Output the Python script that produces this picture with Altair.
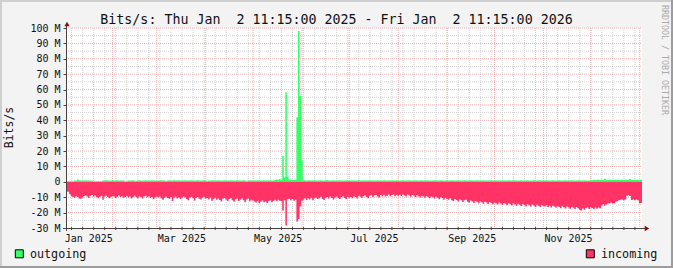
import altair as alt
import pandas as pd
from datetime import datetime, timedelta, timezone

# ---------------- data ----------------
TITLE = "Bits/s: Thu Jan  2 11:15:00 2025 - Fri Jan  2 11:15:00 2026"
Y_TITLE = "Bits/s"
WATERMARK = "RRDTOOL / TOBI OETIKER"
SERIES = ["outgoing", "incoming"]
COLORS = ["#33ff66", "#ff3366"]
Y_TICKS_M = [-30, -20, -10, 0, 10, 20, 30, 40, 50, 60, 70, 80, 90, 100]
Y_MINOR_M = [-25, -15, -5, 5, 15, 25, 35, 45, 55, 65, 75, 85, 95]
X_LABELS = ["Jan 2025", "Mar 2025", "May 2025", "Jul 2025", "Sep 2025", "Nov 2025"]
X_LABEL_DATES = ["2025-01-01", "2025-03-01", "2025-05-01", "2025-07-01", "2025-09-01", "2025-11-01"]

# daily values (Mbit/s), day 0 = 2 Jan 2025 11:15
outgoing_M = (
    # Jan
    [0.2, 0.2, 0.2, 0.2, 0.3, 0.8, 0.9, 1.5, 1.0, 0.9, 0.8, 0.9, 1.0, 0.8, 0.9, 0.8, 0.9,
     0.2, 0.3, 0.2, 0.2, 0.3, 0.2, 0.9, 0.8, 1.0, 0.9, 0.8, 0.9, 1.0]
    # Feb
    + [0.9, 0.8, 1.0, 0.9, 0.8, 0.9, 1.0, 0.2, 0.3, 0.9, 0.8, 0.9, 1.0, 0.8, 0.2,
       0.9, 1.0, 0.8, 0.9, 0.8, 1.0, 0.9, 0.8, 0.9, 1.0, 0.8, 0.9, 0.8]
    # Mar
    + [0.9, 0.8, 1.0, 0.9, 0.8, 0.2, 0.9, 1.0, 0.8, 0.9, 1.1, 0.8, 0.9, 1.0, 0.8, 0.9,
       0.8, 1.0, 0.9, 0.8, 0.9, 1.0, 0.8, 0.9, 0.8, 1.0, 0.9, 0.8, 0.9, 1.0, 0.8]
    # Apr
    + [0.2, 0.9, 0.8, 1.0, 0.9, 0.8, 0.9, 1.0, 0.8, 0.9, 0.8, 1.0, 0.9, 0.8, 0.9, 1.0,
       0.8, 0.9, 0.8, 1.0, 0.9, 0.8, 0.9, 1.0, 0.8, 0.2, 0.9, 0.8, 1.0, 0.9]
    # May
    + [0.9, 0.8, 1.0, 0.9, 0.8, 0.9, 1.0, 0.8, 0.9, 0.8, 1.0, 0.9, 0.8,
       1.2, 1.5, 1.3, 1.9, 1.4, 17.0, 3.0, 58.0, 3.5, 1.5, 1.3, 1.4, 1.2, 1.3,
       42.0, 98.0, 56.0, 14.0]
    # Jun
    + [0.9, 1.0, 0.8, 0.9, 1.1, 0.8, 0.9, 1.0, 0.8, 0.9, 0.8, 1.0, 0.9, 0.8, 0.9,
       1.2, 0.8, 0.9, 0.8, 1.0, 0.9, 0.8, 0.9, 1.0, 0.8, 0.9, 0.8, 1.0, 0.9, 0.8]
    # Jul
    + [0.9, 1.0, 0.8, 0.9, 0.8, 1.0, 0.9, 0.8, 0.9, 1.0, 0.8, 0.9, 0.8, 1.0, 0.9, 0.8,
       0.9, 1.0, 0.8, 0.9, 0.8, 1.0, 0.9, 0.8, 0.9, 1.0, 0.8, 0.9, 0.8, 1.0, 0.9]
    # Aug
    + [0.8, 0.9, 1.0, 0.8, 0.9, 0.8, 1.0, 0.9, 0.8, 0.9, 1.0, 0.8, 0.9, 0.8, 1.0, 0.9,
       0.8, 0.9, 1.0, 0.8, 0.9, 0.8, 1.0, 0.9, 0.8, 0.9, 1.0, 0.8, 0.9, 0.8, 1.0]
    # Sep
    + [0.9, 0.8, 1.0, 0.9, 0.8, 0.9, 1.0, 0.8, 0.9, 0.8, 1.0, 0.9, 0.8, 0.9, 1.0,
       0.8, 0.9, 0.8, 1.0, 0.9, 0.8, 0.9, 1.0, 0.8, 0.9, 0.8, 1.0, 0.9, 0.8, 0.9]
    # Oct
    + [1.0, 0.8, 0.9, 0.8, 1.0, 0.9, 0.8, 0.9, 1.0, 0.8, 0.9, 0.8, 1.0, 0.9, 0.8, 0.9,
       1.0, 0.8, 0.9, 0.8, 1.0, 0.9, 0.8, 0.9, 1.0, 0.8, 0.9, 0.8, 1.0, 0.9, 0.8]
    # Nov
    + [0.9, 1.0, 0.8, 0.9, 0.8, 1.0, 0.9, 0.8, 0.9, 1.0, 0.8, 0.9, 0.8, 1.0, 0.9,
       0.8, 0.9, 1.0, 0.8, 0.9, 0.8, 1.0, 0.9, 0.8, 0.9, 1.0, 0.8, 0.9, 0.8, 1.0]
    # Dec
    + [1.1, 1.3, 1.2, 1.4, 1.3, 1.2, 1.4, 1.3, 2.0, 1.3, 1.2, 1.4, 1.3, 1.2, 1.3, 1.4,
       1.3, 1.2, 1.4, 1.3, 1.2, 1.3, 1.4, 1.3, 1.9, 1.3, 1.2, 1.4, 1.3, 1.2, 1.3]
    # 1 Jan 2026
    + [1.3]
)

incoming_M = (
    # Jan
    [6.3, 6.5, 8.0, 9.2, 9.8, 10.4, 9.3, 9.9, 10.9, 11.0, 10.1, 9.2, 8.8, 9.6, 10.5,
     9.0, 8.6, 9.5, 8.9, 9.8, 10.6, 9.7, 9.1, 11.6, 9.6, 9.0, 9.9, 10.7, 9.8, 9.2]
    # Feb
    + [9.6, 10.5, 9.7, 8.9, 9.8, 9.3, 10.4, 9.9, 9.2, 10.1, 9.6, 10.9, 10.0, 9.1,
       9.8, 10.6, 9.5, 9.9, 10.8, 9.3, 9.0, 10.0, 9.4, 10.5, 9.8, 11.3, 10.1, 9.5]
    # Mar
    + [10.2, 9.6, 10.8, 11.6, 10.4, 9.7, 10.5, 11.0, 9.9, 12.4, 10.3, 9.6, 10.9, 10.2,
       11.2, 10.4, 9.5, 10.1, 11.1, 11.9, 10.2, 9.7, 10.6, 12.2, 10.4, 9.8, 11.0, 11.5,
       10.3, 9.7, 10.9]
    # Apr
    + [10.5, 11.3, 10.2, 12.3, 11.3, 10.4, 11.6, 10.9, 11.8, 12.8, 11.0, 10.5, 11.7,
       12.4, 11.2, 10.6, 11.9, 13.0, 11.3, 10.8, 12.5, 11.6, 10.7, 12.0, 13.3, 11.4,
       10.9, 12.6, 11.7, 12.2]
    # May
    + [12.8, 13.4, 12.3, 13.9, 12.9, 12.2, 13.3, 12.7, 13.7, 12.4, 12.0, 13.2, 12.5,
       11.7, 12.5, 11.6, 12.3, 12.6, 18.6, 12.0, 28.4, 11.5, 11.0, 12.0, 11.2, 12.3,
       11.6, 25.8, 24.2, 16.0, 12.3]
    # Jun
    + [11.6, 10.6, 11.8, 10.7, 11.4, 10.3, 12.0, 10.7, 10.1, 11.2, 10.6, 9.7, 11.0,
       11.8, 10.4, 9.9, 10.9, 9.6, 10.5, 11.5, 10.2, 9.5, 10.6, 11.2, 10.0, 9.4, 10.5,
       11.3, 9.7, 10.4]
    # Jul
    + [9.8, 10.6, 9.3, 9.9, 10.9, 9.1, 9.7, 10.3, 9.2, 8.8, 9.8, 10.6, 9.0, 8.7, 9.8,
       8.9, 8.5, 9.6, 10.2, 8.6, 9.4, 8.4, 9.5, 9.0, 8.3, 9.3, 8.6, 8.2, 9.4, 8.5, 9.1]
    # Aug
    + [8.4, 9.2, 8.2, 8.8, 9.6, 8.3, 8.9, 9.7, 8.5, 9.1, 9.9, 8.7, 9.3, 10.1, 9.0, 9.5,
       10.4, 9.2, 9.8, 10.6, 9.5, 10.0, 10.9, 9.7, 10.4, 11.3, 10.0, 10.7, 11.6, 10.3,
       11.2]
    # Sep
    + [11.6, 10.7, 11.9, 12.5, 11.1, 11.8, 12.8, 11.5, 12.0, 13.1, 12.0, 11.7, 12.9,
       13.5, 12.2, 12.8, 13.7, 12.4, 13.0, 13.9, 12.7, 13.2, 14.2, 12.9, 13.5, 14.4,
       13.1, 13.7, 14.6, 13.4]
    # Oct
    + [13.9, 14.8, 13.5, 14.1, 15.0, 13.7, 14.3, 15.2, 13.9, 14.5, 15.4, 14.0, 14.7,
       15.6, 14.3, 14.9, 15.8, 14.4, 15.1, 16.0, 14.6, 15.2, 16.1, 14.8, 15.4, 16.3,
       14.9, 15.5, 16.4, 15.1, 15.7]
    # Nov
    + [16.1, 15.2, 16.4, 15.5, 16.7, 15.6, 16.1, 16.9, 15.7, 16.3, 17.1, 15.8, 16.5,
       17.3, 16.0, 16.7, 17.5, 16.2, 16.9, 17.7, 16.4, 17.1, 18.1, 18.6, 17.3, 18.2,
       17.0, 16.6, 17.6, 16.7]
    # Dec
    + [17.0, 17.8, 16.6, 17.5, 16.7, 17.2, 15.4, 14.6, 15.5, 14.7, 14.1, 14.0, 13.4,
       14.1, 13.9, 12.9, 12.5, 11.8, 11.7, 11.4, 11.9, 11.5, 9.0, 8.7, 9.2, 11.8, 11.4,
       12.0, 11.5, 11.9, 13.9]
    # 1 Jan 2026
    + [13.8]
)

# ---------------- helpers ----------------
UTC = timezone.utc
START = datetime(2025, 1, 2, 11, 15, tzinfo=UTC)
END = datetime(2026, 1, 2, 11, 15, tzinfo=UTC)


def ms(d):
    return int(d.timestamp() * 1000)


def keep_spaces(s):
    # SVG collapses runs of spaces; keep them visible with no-break spaces
    return s.replace("  ", " \u00a0")


T0, T1 = ms(START), ms(END)
n = len(incoming_M)
times = [ms(START + timedelta(days=i)) for i in range(n + 1)]
df = pd.DataFrame({
    "t": times,
    "out": [v * 1e6 for v in outgoing_M] + [outgoing_M[-1] * 1e6],
    "inc": [-v * 1e6 for v in incoming_M] + [-incoming_M[-1] * 1e6],
})

# grid positions: Mondays (minor) and month starts (major)
mondays = []
d = datetime(2025, 1, 6, tzinfo=UTC)
while d < END:
    mondays.append(ms(d))
    d += timedelta(days=7)
months = []
for y, m in [(2025, k) for k in range(2, 13)] + [(2026, 1)]:
    months.append(ms(datetime(y, m, 1, tzinfo=UTC)))

W, H = 576, 200
FONT = "DejaVu Sans Mono"
GRID_MINOR = "#d2d2d2"
GRID_MAJOR = "#f4b0b0"
AXIS_COL = "#4a4040"
ARROW_COL = "#7f1515"

xs = alt.Scale(type="utc", domain=[T0, T1])
ys = alt.Scale(domain=[-30e6, 100e6], nice=False, zero=False)

yaxis = alt.Axis(
    values=[v * 1e6 for v in Y_TICKS_M],
    labelExpr="datum.value == 0 ? '0' : (datum.value / 1000000) + ' M'",
    domain=False, grid=False, ticks=True, tickSize=3, tickColor=AXIS_COL,
    labelFont=FONT, labelFontSize=10, labelColor="#111111", labelPadding=3,
    title=None,
)

one = pd.DataFrame({"k": [0]})

# grids
vminor = alt.Chart(pd.DataFrame({"t": mondays})).mark_rule(
    color=GRID_MINOR, strokeDash=[1, 1], strokeWidth=1
).encode(x=alt.X("t:T", scale=xs, axis=None), y=alt.value(0), y2=alt.value(H))
hminor = alt.Chart(pd.DataFrame({"v": [v * 1e6 for v in Y_MINOR_M]})).mark_rule(
    color=GRID_MINOR, strokeDash=[1, 1], strokeWidth=1
).encode(y=alt.Y("v:Q", scale=ys, axis=yaxis), x=alt.value(0), x2=alt.value(W))
vmajor = alt.Chart(pd.DataFrame({"t": months})).mark_rule(
    color=GRID_MAJOR, strokeDash=[1, 1], strokeWidth=1
).encode(x=alt.X("t:T", scale=xs, axis=None), y=alt.value(0), y2=alt.value(H))
hmajor = alt.Chart(pd.DataFrame({"v": [v * 1e6 for v in Y_TICKS_M if v > -30]})).mark_rule(
    color=GRID_MAJOR, strokeDash=[1, 1], strokeWidth=1
).encode(y=alt.Y("v:Q", scale=ys, axis=yaxis), x=alt.value(0), x2=alt.value(W))

out_area = alt.Chart(df).mark_area(interpolate="step-after", color=COLORS[0]).encode(
    x=alt.X("t:T", scale=xs, axis=None),
    y=alt.Y("out:Q", scale=ys, axis=yaxis),
    y2=alt.datum(0),
)
in_area = alt.Chart(df).mark_area(interpolate="step-after", color=COLORS[1]).encode(
    x=alt.X("t:T", scale=xs, axis=None),
    y=alt.Y("inc:Q", scale=ys, axis=yaxis),
    y2=alt.datum(0),
)

# axis lines + arrows
xline = alt.Chart(one).mark_rule(color=AXIS_COL, strokeWidth=1).encode(
    y=alt.value(H + 0.5), x=alt.value(-3), x2=alt.value(W + 3))
yline = alt.Chart(one).mark_rule(color=AXIS_COL, strokeWidth=1).encode(
    x=alt.value(0.5), y=alt.value(-3), y2=alt.value(H + 3))
xticks = alt.Chart(pd.DataFrame({"t": mondays})).mark_rule(color=AXIS_COL, strokeWidth=1).encode(
    x=alt.X("t:T", scale=xs, axis=None), y=alt.value(H - 1), y2=alt.value(H + 2))
arrow_up = alt.Chart(one).mark_point(shape="triangle-up", filled=True, size=28,
                                     color=ARROW_COL, opacity=1).encode(
    x=alt.value(1), y=alt.value(-4))
arrow_right = alt.Chart(one).mark_point(shape="triangle-right", filled=True, size=28,
                                        color=ARROW_COL, opacity=1).encode(
    x=alt.value(W + 5), y=alt.value(H + 0.5))

# x labels
xlab = alt.Chart(pd.DataFrame({
    "t": [ms(datetime.fromisoformat(s).replace(tzinfo=UTC)) for s in X_LABEL_DATES],
    "label": X_LABELS,
})).mark_text(align="left", baseline="alphabetic", font=FONT, fontSize=10,
              color="#111111", dx=1).encode(
    x=alt.X("t:T", scale=xs, axis=None), y=alt.value(213.5), text="label:N")

# title, y title, watermark
title = alt.Chart(pd.DataFrame({"s": [keep_spaces(TITLE)]})).mark_text(
    align="center", baseline="alphabetic", font=FONT, fontSize=13.3, color="#111111"
).encode(x=alt.value(270.5), y=alt.value(-4), text="s:N")
ytitle = alt.Chart(pd.DataFrame({"s": [Y_TITLE]})).mark_text(
    align="center", baseline="middle", font=FONT, fontSize=11.5, angle=270, color="#111111"
).encode(x=alt.value(-56), y=alt.value(99.5), text="s:N")
wmark = alt.Chart(pd.DataFrame({"s": [WATERMARK]})).mark_text(
    align="center", baseline="middle", font=FONT, fontSize=8.3, angle=90, color="#aaaaaa"
).encode(x=alt.value(597.5), y=alt.value(32), text="s:N")

# legend
leg_df = pd.DataFrame({"name": SERIES, "color": COLORS})
leg_items = []
for i, (xsq, xtx) in enumerate([(-46.7, -36), (524.3, 535)]):
    sub = leg_df.iloc[[i]]
    leg_items.append(alt.Chart(sub).mark_square(size=64, filled=True, stroke="#000000",
                                                strokeWidth=1, opacity=1).encode(
        x=alt.value(xsq), y=alt.value(225.8), fill=alt.Fill("color:N", scale=None)))
    leg_items.append(alt.Chart(sub).mark_text(
        align="left", baseline="alphabetic", font=FONT, fontSize=11.7, color="#111111"
    ).encode(x=alt.value(xtx), y=alt.value(229.8), text="name:N"))

# outer 3D border
b_top = alt.Chart(one).mark_rule(color="#cfcfcf", strokeWidth=2).encode(
    y=alt.value(-27), x=alt.value(-66), x2=alt.value(607))
b_left = alt.Chart(one).mark_rule(color="#cfcfcf", strokeWidth=2).encode(
    x=alt.value(-65), y=alt.value(-28), y2=alt.value(240))
b_right = alt.Chart(one).mark_rule(color="#9c9c9c", strokeWidth=2).encode(
    x=alt.value(606), y=alt.value(-28), y2=alt.value(240))
b_bottom = alt.Chart(one).mark_rule(color="#9c9c9c", strokeWidth=2).encode(
    y=alt.value(239), x=alt.value(-66), x2=alt.value(607))

chart = alt.layer(
    b_top, b_left, b_right, b_bottom,
    vminor, hminor, vmajor, hmajor,
    out_area, in_area,
    xticks, xline, yline, arrow_up, arrow_right,
    xlab, title, ytitle, wmark, *leg_items,
).properties(
    width=W, height=H,
    autosize=alt.AutoSizeParams(type="none"),
    padding={"left": 66, "top": 28, "right": 31, "bottom": 40},
    background="#f3f3f3",
).configure_view(fill="white", stroke=None)

chart.save("out.html", embed_options={"renderer": "svg", "actions": False})
